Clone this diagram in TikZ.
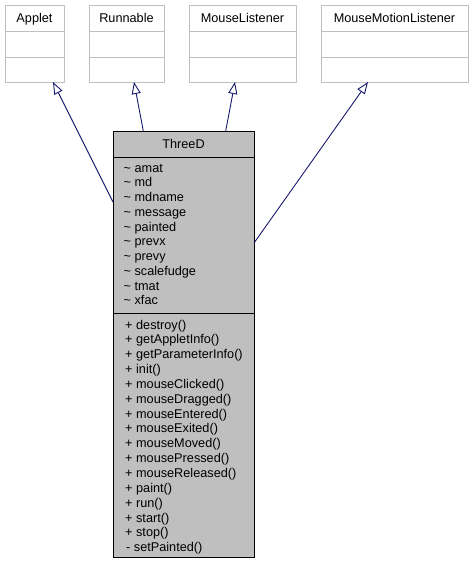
\documentclass[tikz,border=0pt]{standalone}
\usepackage{fontspec}
\setmainfont{Liberation Sans}
\usetikzlibrary{arrows.meta}
\definecolor{boxgray}{HTML}{BFBFBF}
\definecolor{edgeblue}{HTML}{191970}
\begin{document}
\begin{tikzpicture}[x=1pt,y=-1pt,
  cell/.style={draw=boxgray,line width=1pt,fill=white,inner sep=0pt,anchor=north west},
  mcell/.style={draw=black,line width=1pt,fill=boxgray,inner sep=0pt,anchor=north west},
  lbl/.style={inner sep=0pt,anchor=base,font=\fontsize{12.7}{14.8}\selectfont},
  member/.style={inner sep=0pt,anchor=base west,font=\fontsize{12.7}{14.8}\selectfont},
  inh/.style={draw=edgeblue,line width=0.9pt,-{Triangle[open,length=12pt,width=9pt,fill=white]}}]
\useasboundingbox (0,0) rectangle (473,565);
% parent classes
\foreach \n/\l/\r/\t in {applet/5/64/Applet, runnable/89/164/Runnable, mouselistener/189/296/MouseListener, mml/321/468/MouseMotionListener}{
  \node[cell,minimum width=\r pt-\l pt,minimum height=26pt] (\n h) at (\l,5) {};
  \node[cell,minimum width=\r pt-\l pt,minimum height=26pt] (\n a) at (\l,31) {};
  \node[cell,minimum width=\r pt-\l pt,minimum height=25pt] (\n m) at (\l,57) {};
  \node[lbl] (\n t) at ({(\l+\r)/2},22.5) {\t};
}
% ThreeD
\node[mcell,minimum width=141pt,minimum height=26pt] (threedh) at (113,131) {};
\node[mcell,minimum width=141pt,minimum height=156pt] (threeda) at (113,157) {};
\node[mcell,minimum width=141pt,minimum height=244pt] (threedm) at (113,313) {};
\node[lbl] (threedt) at (183.5,148) {ThreeD};
\foreach \t [count=\i] in {amat,md,mdname,message,painted,prevx,prevy,scalefudge,tmat,xfac}{
  \node[member] (attr\i) at (123.5,{172+(\i-1)*14.75}) {\textasciitilde\ \t};
}
\foreach \t [count=\i] in {destroy(),getAppletInfo(),getParameterInfo(),init(),mouseClicked(),mouseDragged(),mouseEntered(),mouseExited(),mouseMoved(),mousePressed(),mouseReleased(),paint(),run(),start(),stop()}{
  \node[member] (meth\i) at (125,{329+(\i-1)*14.85}) {+ \t};
}
\node[member] (meth16) at (126,551.75) {- setPainted()};
% connector end points
\coordinate (pa) at (53,82);
\coordinate (pr) at (134,82);
\coordinate (pm) at (235,82);
\coordinate (pmm) at (368,82);
\coordinate (ca) at (113,202);
\coordinate (cr) at (143.3,131);
\coordinate (cm) at (225.7,131);
\coordinate (cmm) at (254,243);
\draw[inh] (ca) -- (pa);
\draw[inh] (cr) -- (pr);
\draw[inh] (cm) -- (pm);
\draw[inh] (cmm) -- (pmm);
\end{tikzpicture}
\end{document}
